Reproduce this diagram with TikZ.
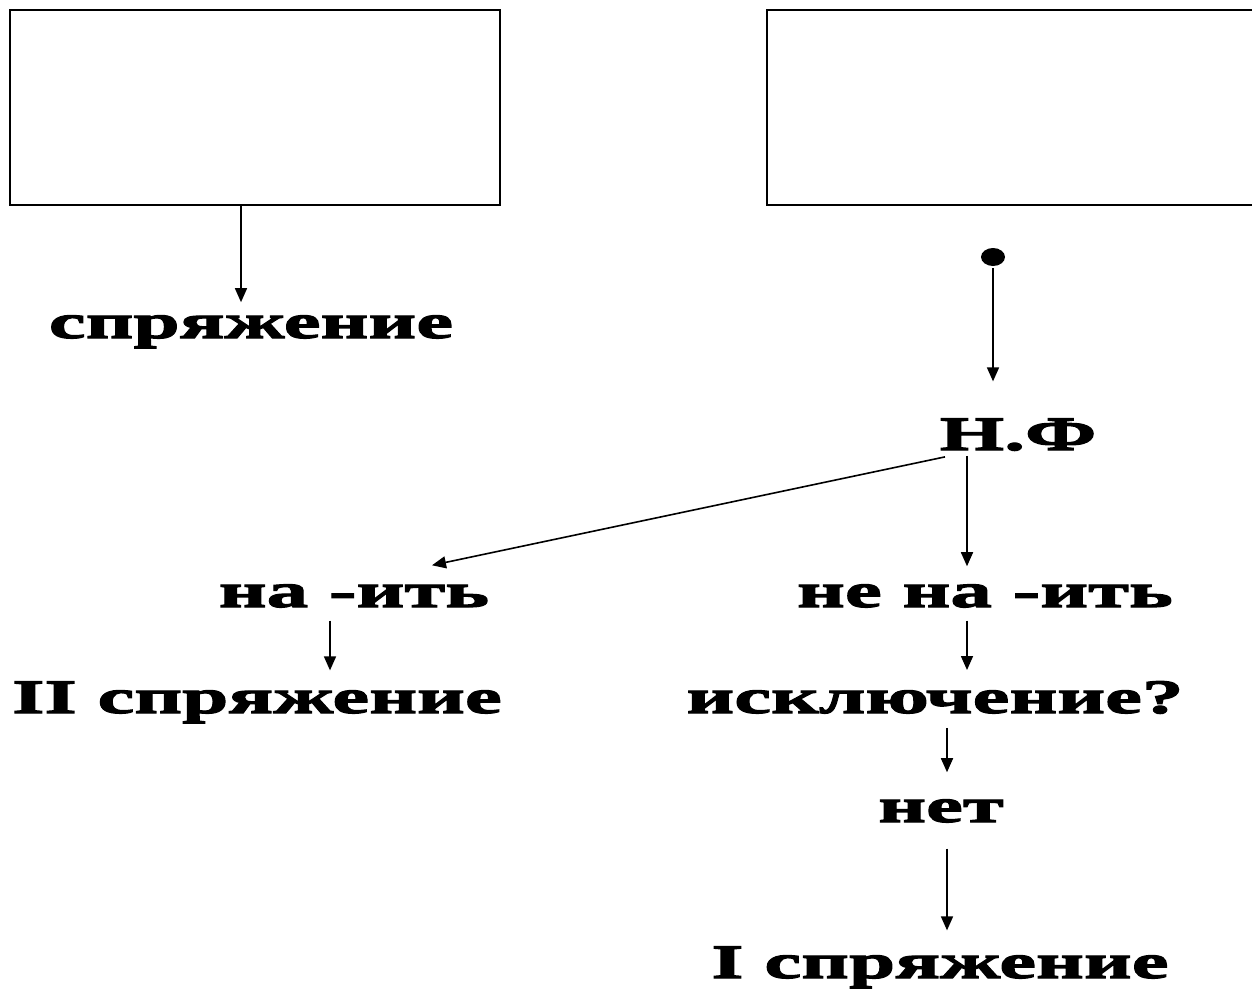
\documentclass[tikz,border=0pt]{standalone}
\usepackage{fontspec}
\usepackage{tikz}
\usetikzlibrary{arrows.meta,shapes}
\newfontfamily\diagfont{Liberation Serif}[FakeStretch=1.73,BoldFeatures={FakeBold=2.5}]

\begin{document}
\begin{tikzpicture}[x=1pt,y=-1pt,
    box/.style={draw,line width=1.6pt,minimum height=195pt,inner sep=0pt},
    lbl/.style={anchor=base,inner sep=0pt,font=\diagfont\bfseries\fontsize{48}{50}\selectfont},
    arr/.style={-{Triangle[length=14pt,width=12pt]},line width=1.6pt}]
\useasboundingbox[fill=white] (0,0) rectangle (1252,990);
% boxes at the top (the right one runs off the page)
\node [box,minimum width=490pt] (leftbox) at (255,107.5) {};
\node [minimum width=520pt,minimum height=195pt,inner sep=0pt] (rightbox) at (1027,107.5) {};
\draw[line width=1.6pt] (rightbox.north east) -- (rightbox.north west) -- (rightbox.south west) -- (rightbox.south east);
\node [ellipse,fill,minimum width=24pt,minimum height=18pt,inner sep=0pt] (dot) at (993,257) {};
% labels
\node [lbl] (conj) at (251,338) {спряжение};
\node [lbl] (nf) at (1018,450) {Н.Ф};
\node [lbl] (na) at (354,607) {на -ить};
\node [lbl] (nena) at (985,607) {не на -ить};
\node [lbl] (two) at (257,713) {II спряжение};
\node [lbl] (exc) at (935,713) {исключение?};
\node [lbl] (net) at (941,822) {нет};
\node [lbl] (one) at (940,978) {I спряжение};
% arrows
\draw[arr] ([shift={(-14,0)}]leftbox.south) -- ([shift={(-10,-13)}]conj.north);
\draw[arr] ([shift={(0,2)}]dot.south) -- ([shift={(-25,-37)}]nf.north);
\draw[arr] ([shift={(-73,6)}]nf.south) -- ([shift={(78,-19)}]na.north);
\draw[arr] ([shift={(-51,5)}]nf.south) -- ([shift={(-18,-18)}]nena.north);
\draw[arr] ([shift={(-24,13)}]na.south) -- ([shift={(73,-11)}]two.north);
\draw[arr] ([shift={(-18,13)}]nena.south) -- ([shift={(32,-11)}]exc.north);
\draw[arr] ([shift={(12,14)}]exc.south) -- ([shift={(6,-27)}]net.north);
\draw[arr] ([shift={(6,26)}]net.south) -- ([shift={(7,-16)}]one.north);
\end{tikzpicture}
\end{document}
